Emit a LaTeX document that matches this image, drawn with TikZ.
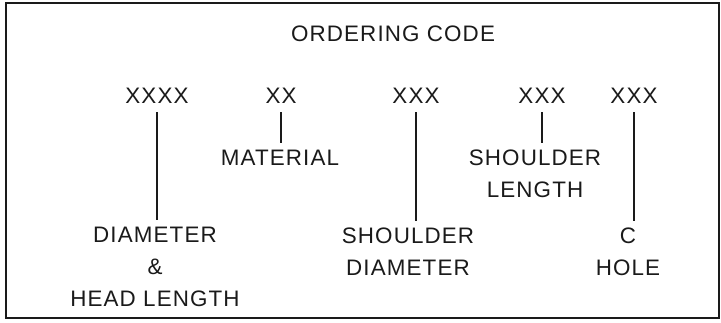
\documentclass[tikz,border=0pt]{standalone}
\usepackage{fontspec}
\setmainfont{Liberation Sans}[LetterSpace=5]
\usepackage{tikz}
\usetikzlibrary{calc, positioning}
\definecolor{Ink}{HTML}{1A1A1A}

\tikzset{
  codetxt/.style={font=\fontsize{11.2}{16}\selectfont, text=Ink, anchor=base, inner sep=0pt},
  labeltxt/.style={font=\fontsize{11.2}{16}\selectfont, text=Ink, anchor=base, align=center, inner sep=0pt},
  leader/.style={draw=Ink, line width=1pt, shorten <=4.5pt, shorten >=3pt}
}

\begin{document}
\begin{tikzpicture}[x=0.5pt, y=-0.5pt]
  \useasboundingbox (0,0) rectangle (721,322);
  % Outer frame
  \draw[draw=Ink, line width=1pt] (6,3) rectangle (719,318);
  \node[codetxt] (title) at (393,41) {ORDERING CODE};
  % Code groups
  \node[codetxt] (dia)   at (157,103) {XXXX};
  \node[codetxt] (mat)   at (281,103) {XX};
  \node[codetxt] (sdia)  at (416,103) {XXX};
  \node[codetxt] (slen)  at (542,103) {XXX};
  \node[codetxt] (hole)  at (634,103) {XXX};
  % Meaning of each group (base = last line)
  \node[labeltxt] (diaL)  at (155,306) {DIAMETER\\\&\\HEAD LENGTH};
  \node[labeltxt] (matL)  at (280,165) {MATERIAL};
  \node[labeltxt] (sdiaL) at (408,275) {SHOULDER\\DIAMETER};
  \node[labeltxt] (slenL) at (535,197) {SHOULDER\\LENGTH};
  \node[labeltxt] (holeL) at (628,275) {C\\HOLE};
  % Leaders
  \draw[leader] (dia.south)  -- (dia.south  |- diaL.north);
  \draw[leader] (mat.south)  -- (mat.south  |- matL.north);
  \draw[leader] (sdia.south) -- (sdia.south |- sdiaL.north);
  \draw[leader] (slen.south) -- (slen.south |- slenL.north);
  \draw[leader] (hole.south) -- (hole.south |- holeL.north);
\end{tikzpicture}
\end{document}
